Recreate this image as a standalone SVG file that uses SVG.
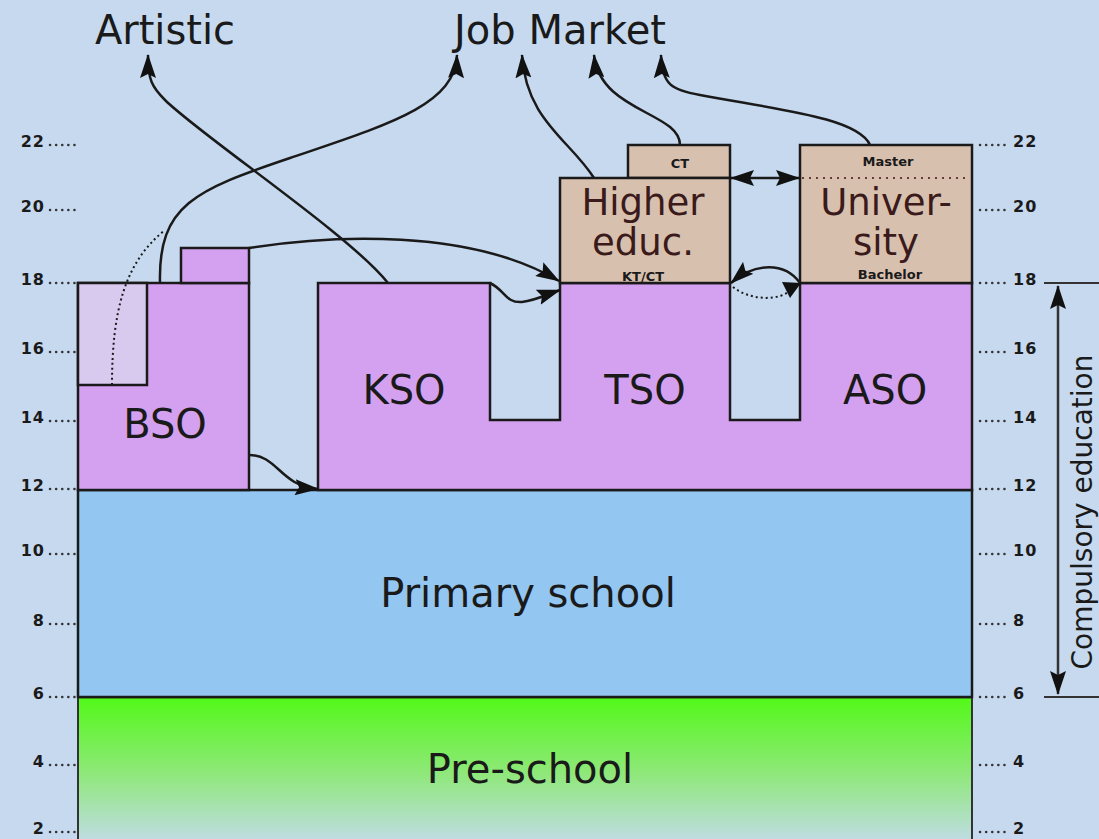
<svg xmlns="http://www.w3.org/2000/svg" width="1099" height="839" viewBox="0 0 1099 839">
<defs>
<marker id="ah" viewBox="0 0 24 16" refX="23" refY="8" markerWidth="24" markerHeight="16" markerUnits="userSpaceOnUse" orient="auto-start-reverse">
<path d="M0,0 L24,8 L0,16 L4,8 Z" fill="#111"/>
</marker>
<linearGradient id="pre" x1="0" y1="0" x2="0" y2="1">
<stop offset="0" stop-color="#52f918"/>
<stop offset="0.5" stop-color="#8ee878"/>
<stop offset="1" stop-color="#c4dbee"/>
</linearGradient>
<style>
.box{stroke:#1a1a1a;stroke-width:2.5;stroke-linejoin:miter}
.pur{fill:#d4a1f1}
.lpur{fill:#d8c9ef}
.tan{fill:#d8c0ae}
.lbl{font-family:"DejaVu Sans",sans-serif;font-size:40px;fill:#1a1a1a;text-anchor:middle}
.lbl2{font-family:"DejaVu Sans",sans-serif;font-size:37px;fill:#3a1a1a;text-anchor:middle}
.sm{font-family:"DejaVu Sans",sans-serif;font-size:13px;font-weight:bold;fill:#1a1a1a;text-anchor:middle}
.tk{font-family:"DejaVu Sans",sans-serif;font-size:16px;font-weight:bold;fill:#1a1a1a;letter-spacing:1px}
.dots{stroke:#333;stroke-width:2.5;stroke-dasharray:0.1,6;stroke-linecap:round}
.con{fill:none;stroke:#1a1a1a;stroke-width:2.5}
.dot{fill:none;stroke:#1a1a1a;stroke-width:2;stroke-dasharray:2,3}
</style>
</defs>
<rect x="0" y="0" width="1099" height="839" fill="#c6d9ef"/>

<g id="axis-left">
<text class="tk" x="45" y="147" text-anchor="end">22</text><line class="dots" x1="50" y1="145" x2="76" y2="145"/>
<text class="tk" x="45" y="212" text-anchor="end">20</text><line class="dots" x1="50" y1="210" x2="76" y2="210"/>
<text class="tk" x="45" y="285" text-anchor="end">18</text><line class="dots" x1="50" y1="283" x2="76" y2="283"/>
<text class="tk" x="45" y="354" text-anchor="end">16</text><line class="dots" x1="50" y1="352" x2="76" y2="352"/>
<text class="tk" x="45" y="423" text-anchor="end">14</text><line class="dots" x1="50" y1="421" x2="76" y2="421"/>
<text class="tk" x="45" y="491" text-anchor="end">12</text><line class="dots" x1="50" y1="489" x2="76" y2="489"/>
<text class="tk" x="45" y="556" text-anchor="end">10</text><line class="dots" x1="50" y1="554" x2="76" y2="554"/>
<text class="tk" x="45" y="626" text-anchor="end">8</text><line class="dots" x1="50" y1="624" x2="76" y2="624"/>
<text class="tk" x="45" y="699" text-anchor="end">6</text><line class="dots" x1="50" y1="697" x2="76" y2="697"/>
<text class="tk" x="45" y="767" text-anchor="end">4</text><line class="dots" x1="50" y1="765" x2="76" y2="765"/>
<text class="tk" x="45" y="834" text-anchor="end">2</text><line class="dots" x1="50" y1="832" x2="76" y2="832"/>
</g>
<g id="axis-right">
<line class="dots" x1="980" y1="145" x2="1008" y2="145"/><text class="tk" x="1013" y="147">22</text>
<line class="dots" x1="980" y1="210" x2="1008" y2="210"/><text class="tk" x="1013" y="212">20</text>
<line class="dots" x1="980" y1="283" x2="1008" y2="283"/><text class="tk" x="1013" y="285">18</text>
<line class="dots" x1="980" y1="352" x2="1008" y2="352"/><text class="tk" x="1013" y="354">16</text>
<line class="dots" x1="980" y1="421" x2="1008" y2="421"/><text class="tk" x="1013" y="423">14</text>
<line class="dots" x1="980" y1="489" x2="1008" y2="489"/><text class="tk" x="1013" y="491">12</text>
<line class="dots" x1="980" y1="554" x2="1008" y2="554"/><text class="tk" x="1013" y="556">10</text>
<line class="dots" x1="980" y1="624" x2="1008" y2="624"/><text class="tk" x="1013" y="626">8</text>
<line class="dots" x1="980" y1="697" x2="1008" y2="697"/><text class="tk" x="1013" y="699">6</text>
<line class="dots" x1="980" y1="765" x2="1008" y2="765"/><text class="tk" x="1013" y="767">4</text>
<line class="dots" x1="980" y1="832" x2="1008" y2="832"/><text class="tk" x="1013" y="834">2</text>
</g>

<g id="preschool">
<rect x="78" y="697" width="894" height="150" fill="url(#pre)"/>
<line x1="78" y1="697" x2="78" y2="839" stroke="#333" stroke-width="2"/>
<line x1="972" y1="697" x2="972" y2="839" stroke="#333" stroke-width="2"/>
<line x1="78" y1="697" x2="972" y2="697" stroke="#1a1a1a" stroke-width="2.5"/>
<text class="lbl" x="530" y="783">Pre-school</text>
</g>

<g id="primary">
<rect class="box" x="78" y="490" width="894" height="207" fill="#93c6f1"/>
<text class="lbl" x="528" y="607">Primary school</text>
</g>

<g id="bso">
<rect class="box pur" x="78" y="283" width="171" height="207"/>
<rect class="box lpur" x="78" y="283" width="69" height="102"/>
<rect class="box pur" x="181" y="248" width="68" height="35"/>
<text class="lbl" x="165" y="438">BSO</text>
</g>

<g id="secondary">
<path class="box pur" d="M318,490 V283 H490 V420 H560 V283 H730 V420 H800 V283 H972 V490 Z"/>
<text class="lbl" x="404" y="404">KSO</text>
<text class="lbl" x="645" y="404">TSO</text>
<text class="lbl" x="885" y="404">ASO</text>
</g>

<g id="higher">
<rect class="box tan" x="628" y="145" width="102" height="33"/>
<text class="sm" x="680" y="168">CT</text>
<rect class="box tan" x="560" y="178" width="170" height="105"/>
<text class="lbl2" x="643" y="215">Higher</text>
<text class="lbl2" x="643" y="255">educ.</text>
<text class="sm" x="643" y="281">KT/CT</text>
</g>

<g id="university">
<rect class="box tan" x="800" y="145" width="172" height="138"/>
<line x1="802" y1="178" x2="970" y2="178" stroke="#6a3a3a" stroke-width="2" stroke-dasharray="2,5"/>
<text class="sm" x="888" y="166">Master</text>
<text class="lbl2" x="886" y="215">Univer-</text>
<text class="lbl2" x="886" y="255">sity</text>
<text class="sm" x="890" y="279">Bachelor</text>
</g>

<g id="targets">
<text class="lbl" x="165" y="44">Artistic</text>
<text class="lbl" x="560" y="44">Job Market</text>
</g>

<g id="compulsory">
<line x1="1044" y1="283" x2="1099" y2="283" stroke="#333" stroke-width="2"/>
<line x1="1044" y1="697" x2="1099" y2="697" stroke="#333" stroke-width="2"/>
<line x1="1058" y1="286" x2="1058" y2="694" stroke="#333" stroke-width="2.5" marker-start="url(#ah)" marker-end="url(#ah)"/>
<text transform="translate(1092,512) rotate(-90)" font-family="DejaVu Sans, sans-serif" font-size="28" fill="#1a1a1a" text-anchor="middle">Compulsory education</text>
</g>

<g id="connectors">
<path class="con" d="M388,283 C350,235 200,135 165,100 C152,87 148,80 148,55" marker-end="url(#ah)"/>
<path class="con" d="M160,283 C158,205 195,190 290,158 C390,124 455,105 457,55" marker-end="url(#ah)"/>
<path class="dot" d="M112,385 C112,310 125,262 165,230"/>
<path class="con" d="M249,248 C330,235 470,228 559,281" marker-end="url(#ah)"/>
<path class="con" d="M490,283 C505,290 505,303 522,302 C537,300 545,295 560,290" marker-end="url(#ah)"/>
<path class="con" d="M249,455 C278,455 280,486 318,489" marker-end="url(#ah)"/>
<path class="con" d="M594,178 C570,140 526,120 522,55" marker-end="url(#ah)"/>
<path class="con" d="M680,145 C680,112 600,112 594,55" marker-end="url(#ah)"/>
<path class="con" d="M870,145 C858,118 780,110 700,95 C672,90 662,85 661,55" marker-end="url(#ah)"/>
<line class="con" x1="731" y1="178" x2="799" y2="178" marker-start="url(#ah)" marker-end="url(#ah)"/>
<path class="con" d="M800,283 C785,262 755,262 731,283" marker-end="url(#ah)"/>
<path class="dot" d="M733,287 C752,302 782,300 790,290"/>
<path d="M782,282 L801,283 L790,298 Z" fill="#111"/>
</g>
</svg>
